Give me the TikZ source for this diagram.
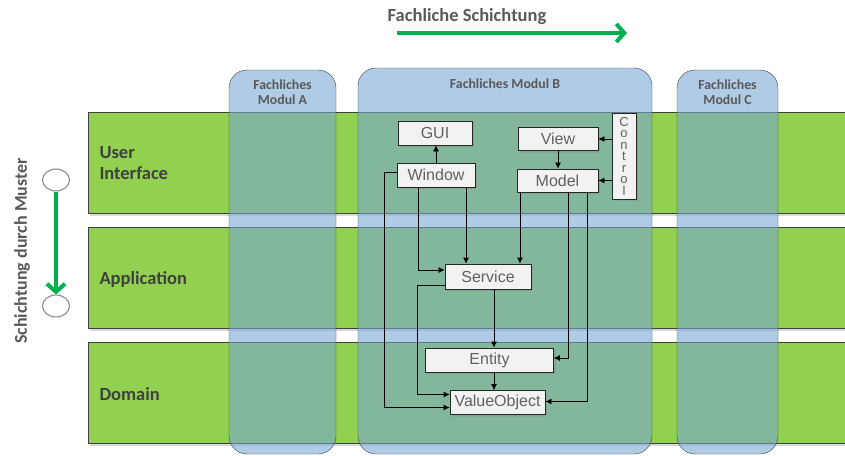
\documentclass[tikz,border=0pt]{standalone}
\usepackage{fontspec}
\setmainfont{Carlito}
\newfontfamily\boxfont{Liberation Sans}
\usetikzlibrary{positioning,arrows.meta,shadows,shapes.geometric}

\definecolor{layergreen}{RGB}{146,208,80}
\definecolor{moduleblue}{RGB}{119,165,212}
\definecolor{flowgreen}{RGB}{0,176,80}
\definecolor{labelgray}{RGB}{64,64,64}
\definecolor{boxgray}{RGB}{242,242,242}

\begin{document}
\begin{tikzpicture}[x=1pt, y=-1pt,
  layer/.style={rectangle, draw=black!75, fill=layergreen, minimum width=758pt,
                minimum height=101pt, inner sep=0pt,
                drop shadow={opacity=0.3, shadow xshift=2pt, shadow yshift=-3pt}},
  layerlabel/.style={anchor=west, align=left, text=labelgray,
                     font=\fontsize{18.5}{21}\selectfont\bfseries},
  module/.style={rectangle, rounded corners=18pt, draw=black!75, fill=moduleblue,
                 fill opacity=0.58, inner sep=0pt},
  modlabel/.style={align=center, text=black!65,
                   font=\fontsize{13.8}{15.5}\selectfont\bfseries},
  box/.style={rectangle, draw=black!85, line width=0.8pt, fill=boxgray, inner sep=0pt,
              text=black!62, font=\boxfont\fontsize{16}{18}\selectfont,
              drop shadow={opacity=0.3, shadow xshift=2pt, shadow yshift=-2pt}},
  arr/.style={-{Latex[length=6pt,width=6pt]}, line width=0.8pt},
  flow/.style={flowgreen, line width=4pt,
               -{Straight Barb[length=8pt,width=18pt,line width=4pt]}},
  marker/.style={ellipse, draw=black!50, line width=1pt, fill=white,
                 minimum width=27pt, minimum height=22pt, inner sep=0pt}
]
\useasboundingbox (0,0) rectangle (845,455);

% Schichtung
\node[text=black!65, font=\fontsize{18.5}{21}\selectfont\bfseries] (title) at (467,17) {Fachliche Schichtung};
\coordinate (ta) at (397,33);
\coordinate (tb) at (627,33);
\draw[flow] (ta) -- (tb);

\node[rotate=90, text=black!65, font=\fontsize{18}{21}\selectfont\bfseries] (muster) at (22,251) {Schichtung durch Muster};
\node[marker] (m1) at (56,180) {};
\node[marker] (m2) at (56,306) {};
\draw[flow] (m1) -- (m2);

% layers
\node[layer] (ui)  at (467,162.5) {};
\node[layer] (app) at (467,277.5) {};
\node[layer] (dom) at (467,392.5) {};
\node[layerlabel] (uil)  at (96,163) {User\\Interface};
\node[layerlabel] (appl) at (96,279) {Application};
\node[layerlabel] (doml) at (96,394) {Domain};

% modules
\node[module, minimum width=107pt, minimum height=384pt] (modA) at (282.5,262) {};
\node[module, minimum width=294pt, minimum height=386pt] (modB) at (505,261) {};
\node[module, minimum width=101pt, minimum height=384pt] (modC) at (727.5,262) {};
\node[modlabel] (modAl) at (282.5,92) {Fachliches\\Modul A};
\node[modlabel] (modBl) at (505,84) {Fachliches Modul B};
\node[modlabel] (modCl) at (727.5,92) {Fachliches\\Modul C};

% boxes
\node[box, minimum width=74pt, minimum height=24pt] (gui)   at (435,133)     {GUI};
\node[box, minimum width=78pt, minimum height=24pt] (win)   at (436,175)     {Window};
\node[box, minimum width=80pt, minimum height=23pt] (view)  at (558,139)     {View};
\node[box, minimum width=81pt, minimum height=23pt] (model) at (557.5,180.5) {Model};
\node[box, minimum width=24pt, minimum height=86pt, align=center,
      font=\boxfont\fontsize{13}{11.5}\selectfont] (ctrl) at (624,156) {C\\o\\n\\t\\r\\o\\l};
\node[box, minimum width=86pt, minimum height=25pt] (svc)   at (488,276.5)   {Service};
\node[box, minimum width=128pt, minimum height=24pt] (ent)  at (489.5,360)   {Entity};
\node[box, minimum width=95pt, minimum height=24pt] (vo)    at (497.5,402.5) {ValueObject};

% dependencies
\draw[arr] (win.north) -- (win.north |- gui.south);
\draw[arr] (view.south) -- (view.south |- model.north);
\draw[arr] (ctrl.west |- view) -- (view.east);
\draw[arr] (ctrl.west |- model) -- (model.east);
\draw[arr] ([xshift=-18pt]win.south) |- ([yshift=6.5pt]svc.west);
\draw[arr] ([xshift=30pt]win.south) -- ([xshift=30pt]win.south |- svc.north);
\draw[arr] ([xshift=-37.5pt]model.south) -- ([xshift=-37.5pt]model.south |- svc.north);
\draw[arr] ([xshift=10.5pt]model.south) |- ([yshift=2pt]ent.east);
\draw[arr] ([xshift=29.5pt]model.south) |- ([yshift=1pt]vo.east);
\draw[arr] ([yshift=3pt]win.west) -- ++(-12,0) |- ([yshift=-5pt]vo.west);
\draw[arr] ([yshift=-8.5pt]svc.west) -- ++(-27,0) |- ([yshift=8pt]vo.west);
\draw[arr] ([xshift=6pt]svc.south) -- ([xshift=6pt]svc.south |- ent.north);
\draw[arr] ([xshift=4.5pt]ent.south) -- ([xshift=4.5pt]ent.south |- vo.north);
\end{tikzpicture}
\end{document}
